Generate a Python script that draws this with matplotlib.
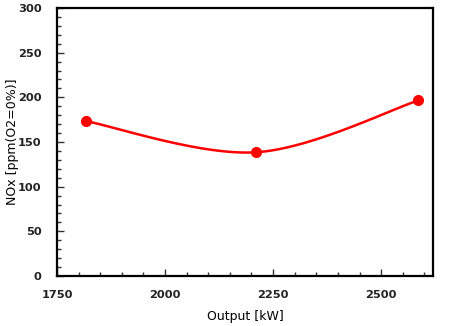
import numpy as np
import matplotlib
matplotlib.use("Agg")
from matplotlib import pyplot as plt
from matplotlib.ticker import MultipleLocator

## data
output_kw = [1816, 2210, 2586]
nox_ppm = [173.5, 138.5, 196.5]

## Excel-like smoothed line (bezier through the points)
def smooth(xs, ys, n=60):
    P = np.column_stack([xs, ys]).astype(float)
    out = []
    for i in range(len(P) - 1):
        p0 = P[i - 1] if i > 0 else P[i]
        p3 = P[i + 2] if i + 2 < len(P) else P[i + 1]
        c1 = P[i] + (P[i + 1] - p0) / 6
        c2 = P[i + 1] - (p3 - P[i]) / 6
        t = np.linspace(0, 1, n)[:, None]
        seg = ((1 - t)**3) * P[i] + 3 * ((1 - t)**2) * t * c1 + 3 * (1 - t) * t**2 * c2 + t**3 * P[i + 1]
        out.append(seg)
    seg = np.vstack(out)
    return seg[:, 0], seg[:, 1]

fig = plt.figure(figsize=(4.5, 3.26), dpi=100)
ax = fig.add_axes([57/450, 50/326, 376/450, 268/326])

sx, sy = smooth(output_kw, nox_ppm)
ax.plot(sx, sy, color='#ff0000', lw=1.8)
ax.plot(output_kw, nox_ppm, 'o', color='#ff0000', ms=7)

ax.set_xlim(1750, 2620)
ax.set_ylim(0, 300)
ax.xaxis.set_major_locator(MultipleLocator(250))
ax.xaxis.set_minor_locator(MultipleLocator(50))
ax.yaxis.set_major_locator(MultipleLocator(50))
ax.yaxis.set_minor_locator(MultipleLocator(10))
ax.tick_params(which='both', direction='in', width=1, colors='#333333', labelcolor='#222222')
ax.tick_params(which='major', length=5, labelsize=8.2)
ax.tick_params(axis='y', which='major', pad=11)
ax.tick_params(axis='x', which='major', pad=10)
ax.tick_params(which='minor', length=3)
for lab in ax.get_xticklabels() + ax.get_yticklabels():
    lab.set_fontweight('bold')
for s in ax.spines.values():
    s.set_linewidth(1.6)
    s.set_color('black')

ax.set_xlabel('Output [kW]', fontsize=9)
ax.set_ylabel('NOx [ppm(O2=0%)]', fontsize=9)
ax.xaxis.set_label_coords(0.5, -0.15)
ax.yaxis.set_label_coords(-0.118, 0.5)
ax.xaxis.label.set_va('center')
ax.yaxis.label.set_va('center')

fig.savefig('out.png', dpi=100)
